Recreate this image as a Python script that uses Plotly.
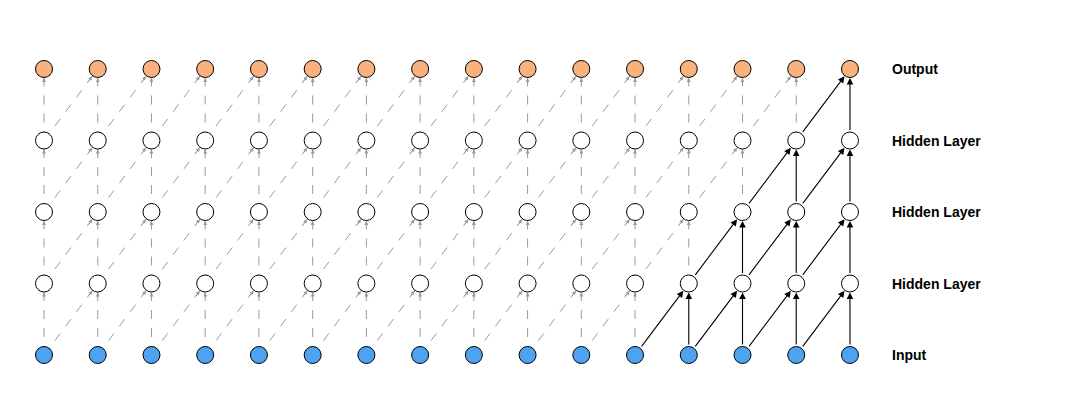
import plotly.graph_objects as go

n_cols = 16
layers = ["Input", "Hidden Layer", "Hidden Layer", "Hidden Layer", "Output"]
layer_colors = ["#4DA3F0", "#FFFFFF", "#FFFFFF", "#FFFFFF", "#F9B27E"]
# receptive field of last output: first active column in each layer
active_start = [11, 12, 13, 14, 15]

fig = go.Figure()
shapes = []
anns = []

def edge(x0, y0, x1, y1, solid):
    if solid:
        anns.append(dict(x=x1, y=y1, ax=x0, ay=y0, xref="x", yref="y", axref="x", ayref="y",
                         showarrow=True, arrowhead=2, arrowsize=1.2, arrowwidth=1.1,
                         arrowcolor="black", standoff=9, startstandoff=9, text=""))
    else:
        shapes.append(dict(type="line", x0=x0, y0=y0, x1=x1, y1=y1, xref="x", yref="y",
                           line=dict(color="#9a9a9a", width=1, dash="dash"), layer="below"))
        f = 0.2
        anns.append(dict(x=x1, y=y1, ax=x1 - f * (x1 - x0), ay=y1 - f * (y1 - y0),
                         xref="x", yref="y", axref="x", ayref="y",
                         showarrow=True, arrowhead=2, arrowsize=1.0, arrowwidth=0.8,
                         arrowcolor="#9a9a9a", standoff=9, text=""))

for l in range(1, len(layers)):
    for c in range(n_cols):
        solid_v = c >= active_start[l] and c >= active_start[l - 1]
        edge(c, l - 1, c, l, solid_v)
        if c >= 1:
            solid_d = c >= active_start[l] and (c - 1) >= active_start[l - 1]
            edge(c - 1, l - 1, c, l, solid_d)

for l, name in enumerate(layers):
    fig.add_trace(go.Scatter(
        x=list(range(n_cols)), y=[l] * n_cols, mode="markers",
        marker=dict(size=17, color=layer_colors[l], line=dict(color="black", width=1)),
        showlegend=False, hoverinfo="skip"))
    anns.append(dict(x=15.75, y=l, xref="x", yref="y", text="<b>" + name + "</b>",
                     showarrow=False, xanchor="left",
                     font=dict(family="Liberation Sans", size=14, color="black")))

fig.update_layout(
    width=1080, height=401, margin=dict(l=0, r=0, t=0, b=0),
    plot_bgcolor="white", paper_bgcolor="white",
    xaxis=dict(range=[-0.67, 19.43], visible=False),
    yaxis=dict(range=[-0.755, 4.853], visible=False),
    shapes=shapes, annotations=anns)
fig.write_html("out.html")
